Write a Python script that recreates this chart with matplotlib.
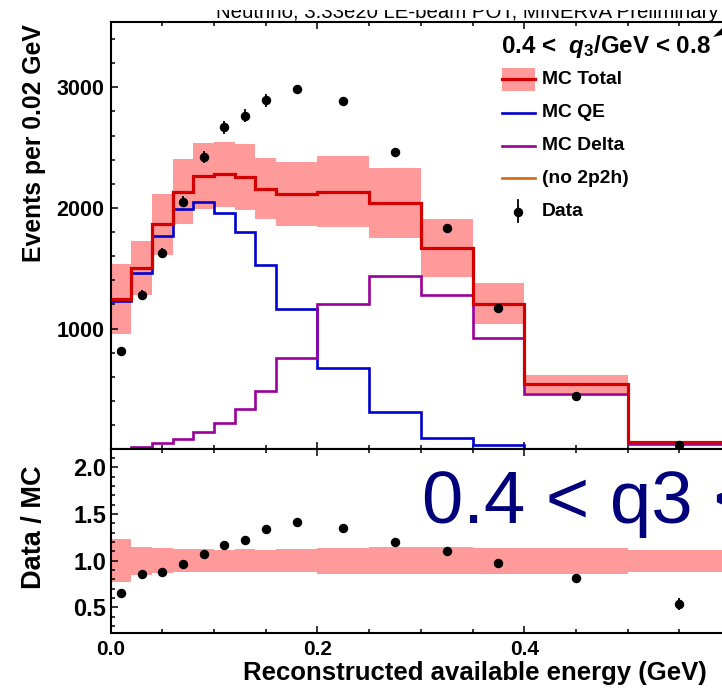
import numpy as np
import matplotlib
matplotlib.use("Agg")
import matplotlib.pyplot as plt
from matplotlib.lines import Line2D
from matplotlib.patches import Rectangle, Polygon
from matplotlib.transforms import Bbox
from matplotlib.ticker import MultipleLocator, FixedLocator

# ---------------- data ----------------
bin_edges = [0.0, 0.02, 0.04, 0.06, 0.08, 0.10, 0.12, 0.14, 0.16, 0.20,
             0.25, 0.30, 0.35, 0.40, 0.50, 0.60]
mc_total = [1248, 1502, 1864, 2135, 2265, 2278, 2256, 2160, 2113, 2135,
            2044, 1665, 1207, 542, 60]
mc_total_err = [291, 226, 251, 270, 275, 270, 273, 255, 264, 295,
                290, 240, 170, 75, 7]
mc_qe = [1232, 1464, 1767, 1988, 2052, 1958, 1798, 1524, 1160, 677,
         312, 91, 33, 0, 0]
mc_delta = [0, 19, 55, 88, 144, 221, 331, 483, 760, 1207,
            1436, 1282, 925, 456, 41]
data_x = [0.01, 0.03, 0.05, 0.07, 0.09, 0.11, 0.13, 0.15, 0.18, 0.225,
          0.275, 0.325, 0.375, 0.45, 0.55]
data_y = [815, 1281, 1630, 2050, 2425, 2668, 2765, 2894, 2983, 2886,
          2463, 1837, 1175, 443, 32]
data_err = [29, 36, 40, 45, 49, 52, 53, 54, 39, 34, 31, 27, 22, 15, 4]

x_tick_labels = ["0.0", "0.2", "0.4"]
top_y_tick_labels = ["1000", "2000", "3000"]
ratio_y_tick_labels = ["0.5", "1.0", "1.5", "2.0"]
legend_labels = ["MC Total", "MC QE", "MC Delta", "(no 2p2h)", "Data"]
title_text = "Neutrino, 3.33e20 LE-beam POT, MINERvA Preliminary"
header_text = "0.4 <  $q_{3}$/GeV < 0.8"
big_text = "0.4 < q3 < 0.8"

# ---------------- style ----------------
W, H = 722, 690
C_RED = "#d40000"
C_BLUE = "#0000d0"
C_PURPLE = "#9a009a"
C_ORANGE = "#d06a10"
C_BAND = "#ff9a9a"
C_NAVY = "#00007a"
BOLD = dict(family="Liberation Sans", weight="bold")

plt.rcParams["mathtext.fontset"] = "custom"
plt.rcParams["mathtext.rm"] = "Liberation Sans:bold"
plt.rcParams["mathtext.it"] = "Liberation Sans:bold:italic"
plt.rcParams["mathtext.bf"] = "Liberation Sans:bold"


def fx(px):
    return px / W


def fy(py):
    return 1 - py / H


fig = plt.figure(figsize=(W / 100, H / 100), dpi=100)

x_left = 110.6
px_per_unit = 1034.0
xmax = 0.8
ax_w = xmax * px_per_unit / W

y_top, y_mid, y_bot = 22.0, 449.3, 632.7
ax1 = fig.add_axes([fx(x_left), fy(y_mid), ax_w, (y_mid - y_top) / H])
ax2 = fig.add_axes([fx(x_left), fy(y_bot), ax_w, (y_bot - y_mid) / H])

edges = np.array(bin_edges)
mc = np.array(mc_total, float)
err = np.array(mc_total_err, float)
dx = np.array(data_x)
dy = np.array(data_y, float)
de = np.array(data_err, float)

# top panel
ax1.stairs(mc + err, edges, baseline=mc - err, fill=True, color=C_BAND,
           lw=0, zorder=1)
ax1.stairs(mc_qe, edges, baseline=None, color=C_BLUE, lw=1.9, zorder=2)
ax1.stairs(mc_delta, edges, baseline=None, color=C_PURPLE, lw=1.9, zorder=2)
ax1.stairs(mc, edges, baseline=None, color=C_RED, lw=2.3, zorder=3)
ax1.errorbar(dx, dy, yerr=de, fmt="o", color="black", ms=5.8, elinewidth=1.3,
             capsize=0, zorder=4)
ax1.set_xlim(0, xmax)
ax1.set_ylim(0, 3541)

# ratio panel
ax2.stairs(1 + err / mc, edges, baseline=1 - err / mc, fill=True,
           color=C_BAND, lw=0, zorder=1)
ax2.errorbar(dx, dy / mc, yerr=de / mc, fmt="o", color="black",
             ms=5.8, elinewidth=1.3, capsize=0, zorder=4)
ax2.set_xlim(0, xmax)
ax2.set_ylim(0.228, 2.193)

for ax in (ax1, ax2):
    for s in ax.spines.values():
        s.set_linewidth(1.5)
    ax.xaxis.set_major_locator(MultipleLocator(0.2))
    ax.xaxis.set_minor_locator(MultipleLocator(0.05))
    ax.tick_params(which="both", direction="in", top=True, right=True,
                   width=1.1)
    ax.tick_params(which="major", length=5)
    ax.tick_params(which="minor", length=2.6)

ax1.yaxis.set_minor_locator(MultipleLocator(200))
ax1.set_yticks([1000, 2000, 3000])
ax1.set_yticklabels(top_y_tick_labels, **BOLD, fontsize=15.5)
ax1.tick_params(axis="y", which="major", pad=4.5)
ax1.tick_params(axis="x", labelbottom=False)

ax2.yaxis.set_minor_locator(MultipleLocator(0.1))
ax2.set_yticks([0.5, 1.0, 1.5, 2.0])
ax2.set_yticklabels(ratio_y_tick_labels, **BOLD, fontsize=17)
ax2.tick_params(axis="y", which="major", pad=3)
ax2.xaxis.set_major_locator(FixedLocator([0.0, 0.2, 0.4, 0.6, 0.8]))
ax2.set_xticklabels(x_tick_labels + ["", ""], **BOLD, fontsize=15)
ax2.tick_params(axis="x", which="major", pad=5.6)

# axis labels
fig.text(fx(34), fy(143), "Events per 0.02 GeV", rotation=90, ha="center",
         va="center", fontsize=17.8, **BOLD)
fig.text(fx(34), fy(527), "Data / MC", rotation=90, ha="center",
         va="center", fontsize=19.5, **BOLD)
fig.text(fx(243), fy(680), "Reconstructed available energy (GeV)",
         ha="left", va="baseline", fontsize=18.5, **BOLD)

# clipped title
t = fig.text(fx(215.5), fy(18.3), title_text, ha="left", va="baseline",
             fontsize=14.7, family="Liberation Sans")
t.set_clip_on(True)
t.set_clip_box(Bbox.from_extents(0, 0, W, H - 10))

# header in legend area
fig.text(fx(501), fy(53.3), header_text, ha="left", va="baseline",
         fontsize=17.4, **BOLD)

# legend (drawn manually)
row_y = [79.3, 112.7, 146.0, 178.3, 211.7]
hx0, hx1, tx = 501.7, 535.0, 542.0
fig.patches.append(Rectangle((fx(hx0), fy(90.7)), fx(hx1) - fx(hx0),
                             (90.7 - 67.7) / H, transform=fig.transFigure,
                             color=C_BAND, lw=0))
for yy, col, lw in zip(row_y[:4], [C_RED, C_BLUE, C_PURPLE, C_ORANGE],
                       [2.3, 1.9, 1.9, 1.9]):
    fig.lines.append(Line2D([fx(hx0), fx(hx1)], [fy(yy), fy(yy)],
                            transform=fig.transFigure, color=col, lw=lw))
mx = (hx0 + hx1) / 2
fig.lines.append(Line2D([fx(mx), fx(mx)], [fy(200), fy(222)],
                        transform=fig.transFigure, color="black", lw=1.3))
fig.lines.append(Line2D([fx(mx)], [fy(row_y[4])], transform=fig.transFigure,
                        color="black", marker="o", ms=5.8, lw=0))
for yy, lab in zip(row_y, legend_labels):
    fig.text(fx(tx), fy(yy), lab, ha="left", va="center", fontsize=13.9,
             **BOLD)

# small wedge at top right
fig.patches.append(Polygon([(fx(713), fy(37)), (fx(722), fy(28)),
                            (fx(722), fy(35))], closed=True,
                           transform=fig.transFigure, color="black", lw=0))

# big navy annotation in ratio panel
fig.text(fx(422.5), fy(523.3), big_text, ha="left", va="baseline",
         fontsize=53.6, family="Liberation Sans", color=C_NAVY)

fig.savefig("out.png", dpi=100)
